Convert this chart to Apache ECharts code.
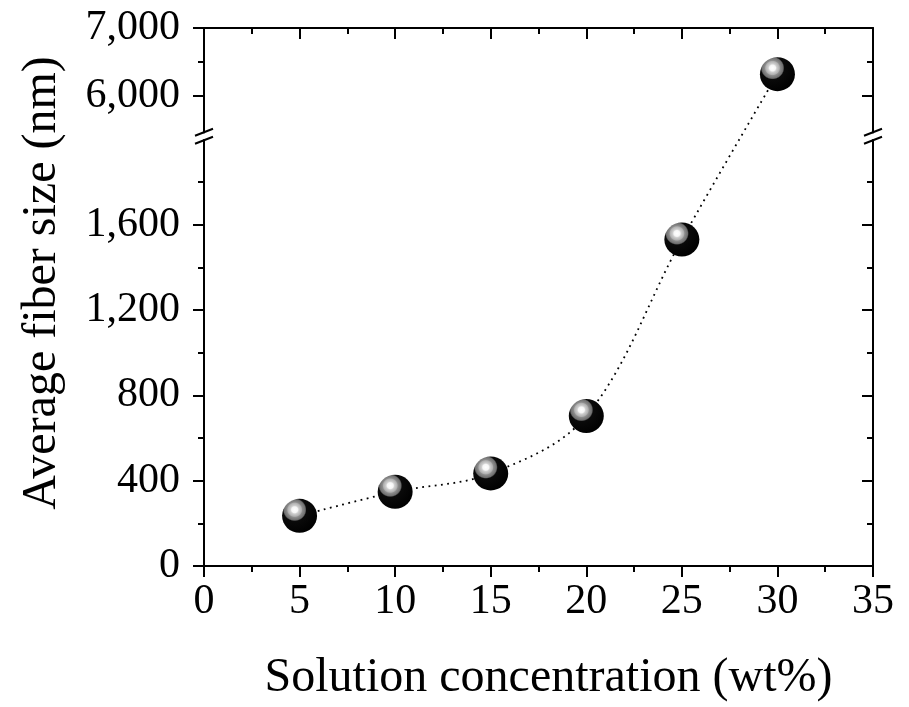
<!DOCTYPE html>
<html>
<head>
<meta charset="utf-8">
<script src="https://cdn.jsdelivr.net/npm/echarts@6/dist/echarts.min.js"></script>
<style>
html,body{margin:0;padding:0;background:#fff;}
#chart{width:909px;height:707px;}
</style>
</head>
<body>
<div id="chart"></div>
<script>
// ---- data ----
const concentrations = [5, 10, 15, 20, 25, 30];          // wt%
const fiberSizes = [235, 348, 434, 703, 1530, 6320];     // nm
const xTicks = [0, 5, 10, 15, 20, 25, 30, 35];
const yTicks = [0, 400, 800, 1200, 1600, 6000, 7000];
const yMinorTicks = [200, 600, 1000, 1400, 1800, 6500];
const xTitle = 'Solution concentration (wt%)';
const yTitle = 'Average fiber size (nm)';

// ---- broken axis mapping (lower 0..2000, upper 5360..7000 compressed) ----
const BREAK_LOW = 2000, BREAK_HIGH = 5360, UPPER_SCALE = 0.318, Y_TOP = 7000;
function toAxis(v) { return v <= BREAK_LOW ? v : BREAK_LOW + (Math.max(v, BREAK_HIGH) - BREAK_HIGH) * UPPER_SCALE; }
const yMax = toAxis(Y_TOP);
const tickPos = yTicks.map(toAxis);
const minorPos = yMinorTicks.map(toAxis);
function labelFor(d) {
  let best = 0, bd = Infinity;
  tickPos.forEach((p, i) => { const dd = Math.abs(p - d); if (dd < bd) { bd = dd; best = i; } });
  return yTicks[best].toLocaleString('en-US');
}

const FONT = '"Liberation Serif", "Times New Roman", serif';
const chart = echarts.init(document.getElementById('chart'));
const data = concentrations.map((c, i) => [c, toAxis(fiberSizes[i])]);

const ballColor = {
  type: 'radial', x: 0.36, y: 0.32, r: 0.72,
  colorStops: [
    { offset: 0, color: '#ffffff' },
    { offset: 0.12, color: '#f6f6f6' },
    { offset: 0.17, color: '#cfcfcf' },
    { offset: 0.27, color: '#b0b0b0' },
    { offset: 0.31, color: '#8c8c8c' },
    { offset: 0.42, color: '#6e6e6e' },
    { offset: 0.47, color: '#0a0a0a' },
    { offset: 1, color: '#000000' }
  ]
};

const tickStyle = { color: '#000', width: 2 };
const axisLine = { show: true, onZero: false, lineStyle: { color: '#000', width: 2 } };
const noLine = { show: false, onZero: false };
function yAx(pos, inside, len, vals, withLabels, withLine) {
  return {
    type: 'value', min: 0, max: yMax, position: pos,
    axisLine: withLine ? axisLine : noLine,
    splitLine: { show: false },
    axisTick: { show: true, inside: inside, length: len, customValues: vals, lineStyle: tickStyle },
    axisLabel: withLabels ? {
      show: true, customValues: vals, formatter: labelFor, margin: 24,
      color: '#000', fontSize: 42, fontFamily: FONT
    } : { show: false }
  };
}

const option = {
  backgroundColor: '#fff',
  animation: false,
  grid: { left: 204, right: 36, top: 28, bottom: 140, containLabel: false },
  xAxis: [
    {
      type: 'value', min: 0, max: 35, interval: 5, position: 'bottom',
      axisLine: axisLine, splitLine: { show: false },
      axisTick: { inside: false, length: 11, lineStyle: tickStyle },
      minorTick: { show: true, splitNumber: 2, length: 6, lineStyle: tickStyle },
      minorSplitLine: { show: false },
      axisLabel: { color: '#000', fontSize: 42, fontFamily: FONT, margin: 15,
        customValues: xTicks, formatter: v => String(v) },
      name: xTitle, nameLocation: 'middle', nameGap: 88,
      nameTextStyle: { color: '#000', fontSize: 48, fontFamily: FONT, padding: [0, 0, 0, 20] }
    },
    {
      type: 'value', min: 0, max: 35, interval: 5, position: 'top',
      axisLine: axisLine, splitLine: { show: false },
      axisTick: { inside: true, length: 11, lineStyle: tickStyle },
      minorTick: { show: true, splitNumber: 2, length: 6, lineStyle: tickStyle },
      axisLabel: { show: false }
    }
  ],
  yAxis: [
    Object.assign(yAx('left', false, 11, tickPos, true, true), {
      name: yTitle, nameLocation: 'middle', nameGap: 138, nameRotate: 90,
      nameTextStyle: { color: '#000', fontSize: 48, fontFamily: FONT, padding: [0, 0, 0, 28] }
    }),
    yAx('right', true, 11, tickPos, false, true),
    yAx('left', false, 6, minorPos, false, false),
    yAx('right', true, 6, minorPos, false, false)
  ],
  series: [
    {
      type: 'line', data: data, smooth: 0.35, symbol: 'none', z: 2,
      lineStyle: { color: '#000', width: 1.8, type: [1.8, 4.5] }
    },
    {
      type: 'scatter', data: data, symbol: 'circle', symbolSize: [35, 34], z: 5,
      itemStyle: { color: ballColor, borderWidth: 0, opacity: 1 }
    }
  ]
};
chart.setOption(option);

// ---- axis break marks on left and right axes ----
const yB = chart.convertToPixel({ yAxisIndex: 0 }, BREAK_LOW) - 3;
const xL = chart.convertToPixel({ xAxisIndex: 0 }, 0);
const xR = chart.convertToPixel({ xAxisIndex: 0 }, 35);
const marks = [];
[xL, xR].forEach(x => {
  marks.push({ type: 'rect', shape: { x: x - 4, y: yB - 3, width: 8, height: 6 }, style: { fill: '#fff' }, z: 100 });
  [-4, 4].forEach(off => {
    marks.push({ type: 'line', shape: { x1: x - 9, y1: yB + off + 3.5, x2: x + 9, y2: yB + off - 3.5 },
      style: { stroke: '#000', lineWidth: 2 }, z: 101 });
  });
});
chart.setOption({ graphic: marks });
</script>
</body>
</html>
